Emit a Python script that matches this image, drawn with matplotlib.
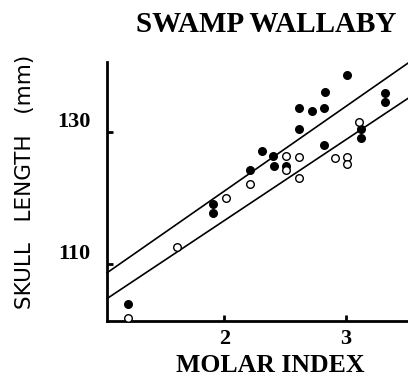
import numpy as np
import matplotlib
matplotlib.use("Agg")
import matplotlib.pyplot as plt

# filled points (one group)
filled_x = [1.21, 1.91, 1.91, 2.21, 2.31, 2.40, 2.41, 2.51, 2.61, 2.61,
            2.72, 2.82, 2.83, 2.82, 3.01, 3.12, 3.12, 3.32, 3.32]
filled_y = [104.0, 119.1, 117.8, 124.2, 127.1, 126.4, 124.8, 124.9, 133.6, 130.5,
            133.2, 133.7, 136.0, 128.0, 138.6, 130.4, 129.1, 135.9, 134.5]

# open points (other group)
open_x = [1.21, 1.61, 2.01, 2.21, 2.51, 2.51, 2.61, 2.61, 2.91, 3.01, 3.01, 3.11]
open_y = [101.9, 112.6, 120.0, 122.1, 126.3, 124.2, 126.2, 123.1, 126.1, 126.2, 125.1, 131.5]

# regression lines: (intercept, slope)
upper_line = (95.4, 12.83)
lower_line = (92.1, 12.25)

x_ticks = [2, 3]
y_ticks = [110, 130]

fig = plt.figure(figsize=(4.08, 3.80), dpi=100)
ax = fig.add_axes([107 / 408, 59 / 380, 301 / 408, 259 / 380])

xmin, xmax = 1.036, 3.51
ymin, ymax = 101.4, 140.6

xs = np.array([xmin, xmax])
for b0, b1 in (upper_line, lower_line):
    ax.plot(xs, b0 + b1 * xs, color='black', lw=1.2, clip_on=False)

ax.scatter(filled_x, filled_y, s=30, color='black', zorder=3, clip_on=False)
ax.scatter(open_x, open_y, s=30, facecolor='white', edgecolor='black',
           linewidths=1.0, zorder=3, clip_on=False)

ax.set_xlim(xmin, xmax)
ax.set_ylim(ymin, ymax)

for s in ('top', 'right'):
    ax.spines[s].set_visible(False)
for s in ('left', 'bottom'):
    ax.spines[s].set_linewidth(2.0)

ax.set_xticks(x_ticks)
ax.set_yticks(y_ticks)
ax.tick_params(direction='in', length=4, width=2)
ax.tick_params(axis='x', pad=6)
ax.tick_params(axis='y', pad=12)
serif = 'Liberation Serif'
ax.set_xticklabels([str(t) for t in x_ticks], fontfamily=serif,
                   fontweight='bold', fontsize=16)
ax.set_yticklabels([str(t) for t in y_ticks], fontfamily=serif,
                   fontweight='bold', fontsize=16, va='bottom')

fig.text(266 / 408, 1 - 25 / 380, 'SWAMP WALLABY', ha='center', va='center',
         fontfamily=serif, fontweight='bold', fontsize=21)
fig.text(270 / 408, 1 - 366 / 380, 'MOLAR INDEX', ha='center', va='center',
         fontfamily=serif, fontweight='bold', fontsize=18.5)
fig.text(25 / 408, 1 - 182 / 380, 'SKULL   LENGTH   (mm)', rotation=90,
         ha='center', va='center', fontfamily='DejaVu Sans', fontsize=15.5)

fig.savefig('out.png', dpi=100)
